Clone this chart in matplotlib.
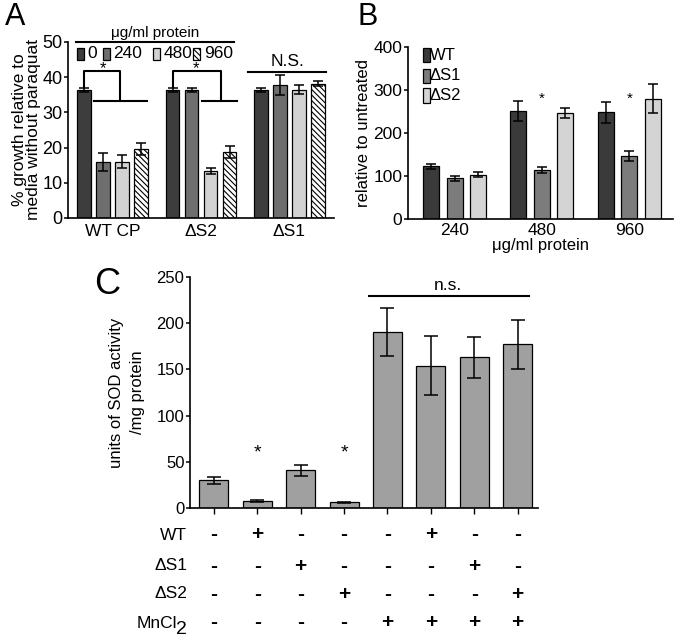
import numpy as np
import matplotlib
matplotlib.use("Agg")
import matplotlib.pyplot as plt
from matplotlib.patches import Rectangle
from matplotlib.transforms import blended_transform_factory

plt.rcParams['font.family'] = ['Liberation Sans', 'DejaVu Sans']
plt.rcParams['hatch.linewidth'] = 0.8

# ---- panel A data ----
a_groups = ["WT CP", "\u0394S2", "\u0394S1"]
a_doses = ["0", "240", "480", "960"]
a_vals = [[36.3, 16.0, 16.0, 19.6],
          [36.3, 36.4, 13.4, 18.8],
          [36.3, 37.7, 36.5, 38.2]]
a_errs = [[0.6, 2.6, 1.9, 1.6],
          [0.6, 0.6, 0.9, 1.7],
          [0.6, 2.8, 1.3, 0.8]]
a_colors = ["#3d3d3d", "#6e6e6e", "#d2d2d2", "white"]
a_hatch = [None, None, None, "\\\\\\\\\\\\"]

# ---- panel B data ----
b_doses = ["240", "480", "960"]
b_strains = ["WT", "\u0394S1", "\u0394S2"]
b_vals = [[123, 95, 103],
          [252, 115, 246],
          [248, 146, 280]]
b_errs = [[6, 6, 6],
          [23, 7, 11],
          [24, 11, 33]]
b_colors = ["#3a3a3a", "#7c7c7c", "#d4d4d4"]

# ---- panel C data ----
c_vals = [30, 8, 41, 6, 190, 154, 163, 177]
c_errs = [3.5, 1.0, 6, 1.0, 26, 32, 22, 27]
c_rows = ["WT", "\u0394S1", "\u0394S2", "MnCl"]
c_table = [["-", "+", "-", "-", "-", "+", "-", "-"],
           ["-", "-", "+", "-", "-", "-", "+", "-"],
           ["-", "-", "-", "+", "-", "-", "-", "+"],
           ["-", "-", "-", "-", "+", "+", "+", "+"]]

W, H = 676, 639
fig = plt.figure(figsize=(W / 100, H / 100), dpi=100)


def px_axes(x0, y0, x1, y1):
    return fig.add_axes([x0 / W, 1 - y1 / H, (x1 - x0) / W, (y1 - y0) / H])


def style(ax, fs):
    for s in ["top", "right"]:
        ax.spines[s].set_visible(False)
    for s in ["left", "bottom"]:
        ax.spines[s].set_linewidth(1.2)
    ax.tick_params(axis="y", direction="out", length=3, width=1.1, labelsize=fs, pad=1)


# ================= panel A =================
axA = px_axes(68, 42, 334, 218)
style(axA, 13)
gA = 4.65
for g in range(3):
    for j in range(4):
        x = g * gA + j
        axA.bar(x, a_vals[g][j], width=0.72, color=a_colors[j], edgecolor="black",
                linewidth=0.9, hatch=a_hatch[j])
        axA.errorbar(x, a_vals[g][j], yerr=a_errs[g][j], color="black",
                     capsize=3.5, elinewidth=1.1, capthick=1.1)
axA.set_xlim(-0.85, 13.15)
axA.set_ylim(0, 50)
axA.set_yticks(range(0, 51, 10))
axA.set_xticks([g * gA + 1.5 for g in range(3)])
axA.set_xticklabels(a_groups, fontsize=12.5)
axA.tick_params(axis="x", length=0, pad=4)
axA.set_ylabel("% growth relative to\nmedia without paraquat", fontsize=12.5,
               labelpad=1, linespacing=0.95)

kw = dict(color="black", lw=1.5, clip_on=False)
# brackets with stars
axA.plot([0, 0, 1.9, 1.9], [37.2, 41.8, 41.8, 33.2], **kw)
axA.plot([0.53, 3.3], [33.2, 33.2], **kw)
axA.text(1.0, 42.3, "*", ha="center", va="center", fontsize=12)
axA.plot([gA, gA, 7.2, 7.2], [37.2, 41.8, 41.8, 33.2], **kw)
axA.plot([6.2, 8.05], [33.2, 33.2], **kw)
axA.text(5.9, 42.3, "*", ha="center", va="center", fontsize=12)
axA.plot([8.6, 12.75], [41.5, 41.5], **kw)
axA.text(10.7, 42.2, "N.S.", ha="center", va="bottom", fontsize=12.5)

# legend
axA.plot([-0.42, 7.9], [50, 50], **kw)
axA.text(3.74, 50.5, "\u03bcg/ml protein", ha="center", va="bottom", fontsize=11)
leg_x = [-0.37, 1.0, 3.63, 5.74]
for j in range(4):
    axA.add_patch(Rectangle((leg_x[j], 45.0), 0.37, 3.4, facecolor=a_colors[j],
                            edgecolor="black", linewidth=0.9, hatch=a_hatch[j],
                            clip_on=False))
    axA.text(leg_x[j] + 0.55, 46.7, a_doses[j], ha="left", va="center", fontsize=12.5)

fig.text(15 / W, 1 - 17 / H, "A", fontsize=22, ha="center", va="center")

# ================= panel B =================
axB = px_axes(408, 47, 673, 219)
style(axB, 12.5)
gB = 3.72
for g in range(3):
    for j in range(3):
        x = g * gB + j
        axB.bar(x, b_vals[g][j], width=0.68, color=b_colors[j], edgecolor="black",
                linewidth=0.9)
        axB.errorbar(x, b_vals[g][j], yerr=b_errs[g][j], color="black",
                     capsize=3.5, elinewidth=1.1, capthick=1.1)
axB.set_xlim(-0.98, 10.3)
axB.set_ylim(0, 400)
axB.set_yticks(range(0, 401, 100))
axB.set_xticks([g * gB + 1 for g in range(3)])
axB.set_xticklabels(b_doses, fontsize=12.5)
axB.tick_params(axis="x", length=0, pad=3)
axB.set_xlabel("\u03bcg/ml protein", fontsize=12, labelpad=0)
axB.set_ylabel("relative to untreated", fontsize=12, labelpad=2)
for g in [1, 2]:
    axB.text(g * gB + 1, 280, "*", ha="center", va="center", fontsize=11)
leg_y = [381, 333, 287]
for j in range(3):
    axB.add_patch(Rectangle((-0.34, leg_y[j] - 17), 0.3, 34, facecolor=b_colors[j],
                            edgecolor="black", linewidth=0.9, clip_on=False))
    axB.text(-0.06, leg_y[j], b_strains[j], ha="left", va="center", fontsize=12)

fig.text(368 / W, 1 - 17 / H, "B", fontsize=22, ha="center", va="center")

# ================= panel C =================
axC = px_axes(190, 277, 538, 508)
style(axC, 12)
xc = np.arange(len(c_vals))
axC.bar(xc, c_vals, width=0.67, color="#a0a0a0", edgecolor="black", linewidth=0.9)
axC.errorbar(xc, c_vals, yerr=c_errs, fmt="none", ecolor="black",
             capsize=5, elinewidth=1.1, capthick=1.1)
axC.set_xlim(-0.55, 7.47)
axC.set_ylim(0, 250)
axC.set_yticks(range(0, 251, 50))
axC.set_xticks(xc)
axC.set_xticklabels([])
axC.tick_params(axis="x", direction="out", length=4, width=1)
axC.set_ylabel("units of SOD activity\n/mg protein", fontsize=12, labelpad=8,
               linespacing=1.5)
for i in [1, 3]:
    axC.text(i, 60, "*", ha="center", va="center", fontsize=14)
axC.plot([3.57, 7.26], [229, 229], **kw)
axC.text(5.4, 233, "n.s.", ha="center", va="bottom", fontsize=12.5)

trC = blended_transform_factory(axC.transData, fig.transFigure)
row_y = [535, 566, 594, 623]
row_x = [187, 187, 187, 177]
for r, lab in enumerate(c_rows):
    fig.text(row_x[r] / W, 1 - row_y[r] / H, lab, ha="right", va="center", fontsize=12.5)
    for i, s in enumerate(c_table[r]):
        axC.text(i, 1 - row_y[r] / H, s, transform=trC, ha="center", va="center",
                 fontsize=15, fontweight="bold")
# large lowered subscript of MnCl2
fig.text(175.5 / W, 1 - 630 / H, "2", ha="left", va="center", fontsize=14)

fig.text(107 / W, 1 - 284 / H, "C", fontsize=26, ha="center", va="center")

fig.savefig("out.png", dpi=100)
